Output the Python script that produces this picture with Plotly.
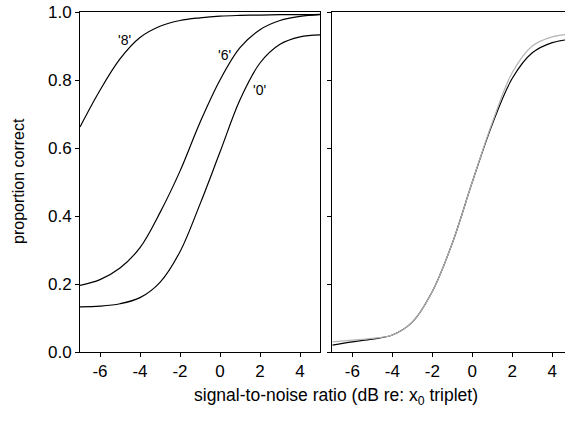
import plotly.graph_objects as go

# ---- data ----
snr = [-7, -6, -5, -4, -3, -2, -1, 0, 1, 2, 3, 4, 5]

# left panel
curve_8 = [0.662, 0.770, 0.862, 0.925, 0.958, 0.975, 0.983, 0.988, 0.990, 0.991, 0.992, 0.992, 0.993]
curve_6 = [0.196, 0.213, 0.247, 0.307, 0.410, 0.532, 0.675, 0.800, 0.895, 0.948, 0.975, 0.987, 0.992]
curve_0 = [0.133, 0.135, 0.142, 0.160, 0.205, 0.295, 0.435, 0.588, 0.742, 0.850, 0.905, 0.927, 0.933]

# right panel
right_black = [0.020, 0.030, 0.038, 0.050, 0.088, 0.178, 0.320, 0.500, 0.670, 0.805, 0.880, 0.910, 0.920]
right_gray = [0.030, 0.035, 0.040, 0.050, 0.088, 0.178, 0.320, 0.500, 0.675, 0.822, 0.900, 0.927, 0.935]

curve_labels = ["'8'", "'6'", "'0'"]
label_x = [-4.77, 0.24, 1.99]
label_y = [0.918, 0.874, 0.771]

x_ticks = [-6, -4, -2, 0, 2, 4]
x_tick_text = ["-6", "-4", "-2", "0", "2", "4"]
y_ticks = [0.0, 0.2, 0.4, 0.6, 0.8, 1.0]
y_tick_text = ["0.0", "0.2", "0.4", "0.6", "0.8", "1.0"]

W, H = 565, 423
L, R, T, B = 80, 0, 12, 71
PW = W - L - R
FONT = "Liberation Sans, Arial, sans-serif"

fig = go.Figure()
line_style = dict(color="black", width=1.2, shape="spline", smoothing=1.0)
for ys in (curve_8, curve_6, curve_0):
    fig.add_trace(go.Scatter(x=snr, y=ys, mode="lines", line=line_style,
                             xaxis="x", yaxis="y", showlegend=False, hoverinfo="skip"))
fig.add_trace(go.Scatter(x=snr, y=right_black, mode="lines", line=line_style,
                         xaxis="x2", yaxis="y2", showlegend=False, hoverinfo="skip"))
fig.add_trace(go.Scatter(x=snr, y=right_gray, mode="lines",
                         line=dict(color="#b4b4b4", width=1.2, shape="spline", smoothing=1.0),
                         xaxis="x2", yaxis="y2", showlegend=False, hoverinfo="skip"))

ax_common = dict(showline=True, linecolor="black", linewidth=1, ticks="outside",
                 ticklen=4, tickcolor="black", tickwidth=1, showgrid=False, zeroline=False,
                 automargin=False,
                 tickfont=dict(family=FONT, size=17, color="black"))

annotations = []
for t, x, y in zip(curve_labels, label_x, label_y):
    annotations.append(dict(text=t, x=x, y=y, xref="x", yref="y", showarrow=False,
                            font=dict(family=FONT, size=14, color="black")))
annotations.append(dict(text="signal-to-noise ratio (dB re: x<sub>0</sub> triplet)",
                        x=(336 - L) / PW, y=0, xref="paper", yref="paper", yshift=-44,
                        xanchor="center", yanchor="middle", showarrow=False,
                        font=dict(family=FONT, size=17.5, color="black")))
annotations.append(dict(text="proportion correct", x=(19 - L) / PW, y=0.503, xref="paper",
                        yref="paper", textangle=-90, xanchor="center", yanchor="middle",
                        showarrow=False, font=dict(family=FONT, size=16, color="black")))

fig.update_layout(
    width=W, height=H,
    margin=dict(l=L, r=R, t=T, b=B),
    paper_bgcolor="white", plot_bgcolor="white",
    xaxis=dict(domain=[0, 240 / PW], range=[-7, 5], tickvals=x_ticks, ticktext=x_tick_text,
               mirror=True, anchor="y", **ax_common),
    yaxis=dict(domain=[0, 1], range=[0, 1], tickvals=y_ticks, ticktext=y_tick_text,
               mirror=True, anchor="x", **ax_common),
    xaxis2=dict(domain=[252.3 / PW, 1], range=[-7, 4.635], tickvals=x_ticks,
                ticktext=x_tick_text, mirror=True, anchor="y2", **ax_common),
    yaxis2=dict(domain=[0, 1], range=[0, 1], tickvals=y_ticks, showticklabels=False,
                anchor="x2", **ax_common),
    annotations=annotations,
)

fig.write_html("out.html", config={"displayModeBar": False},
               post_script="document.body.style.margin='0';document.body.style.overflow='hidden';")
